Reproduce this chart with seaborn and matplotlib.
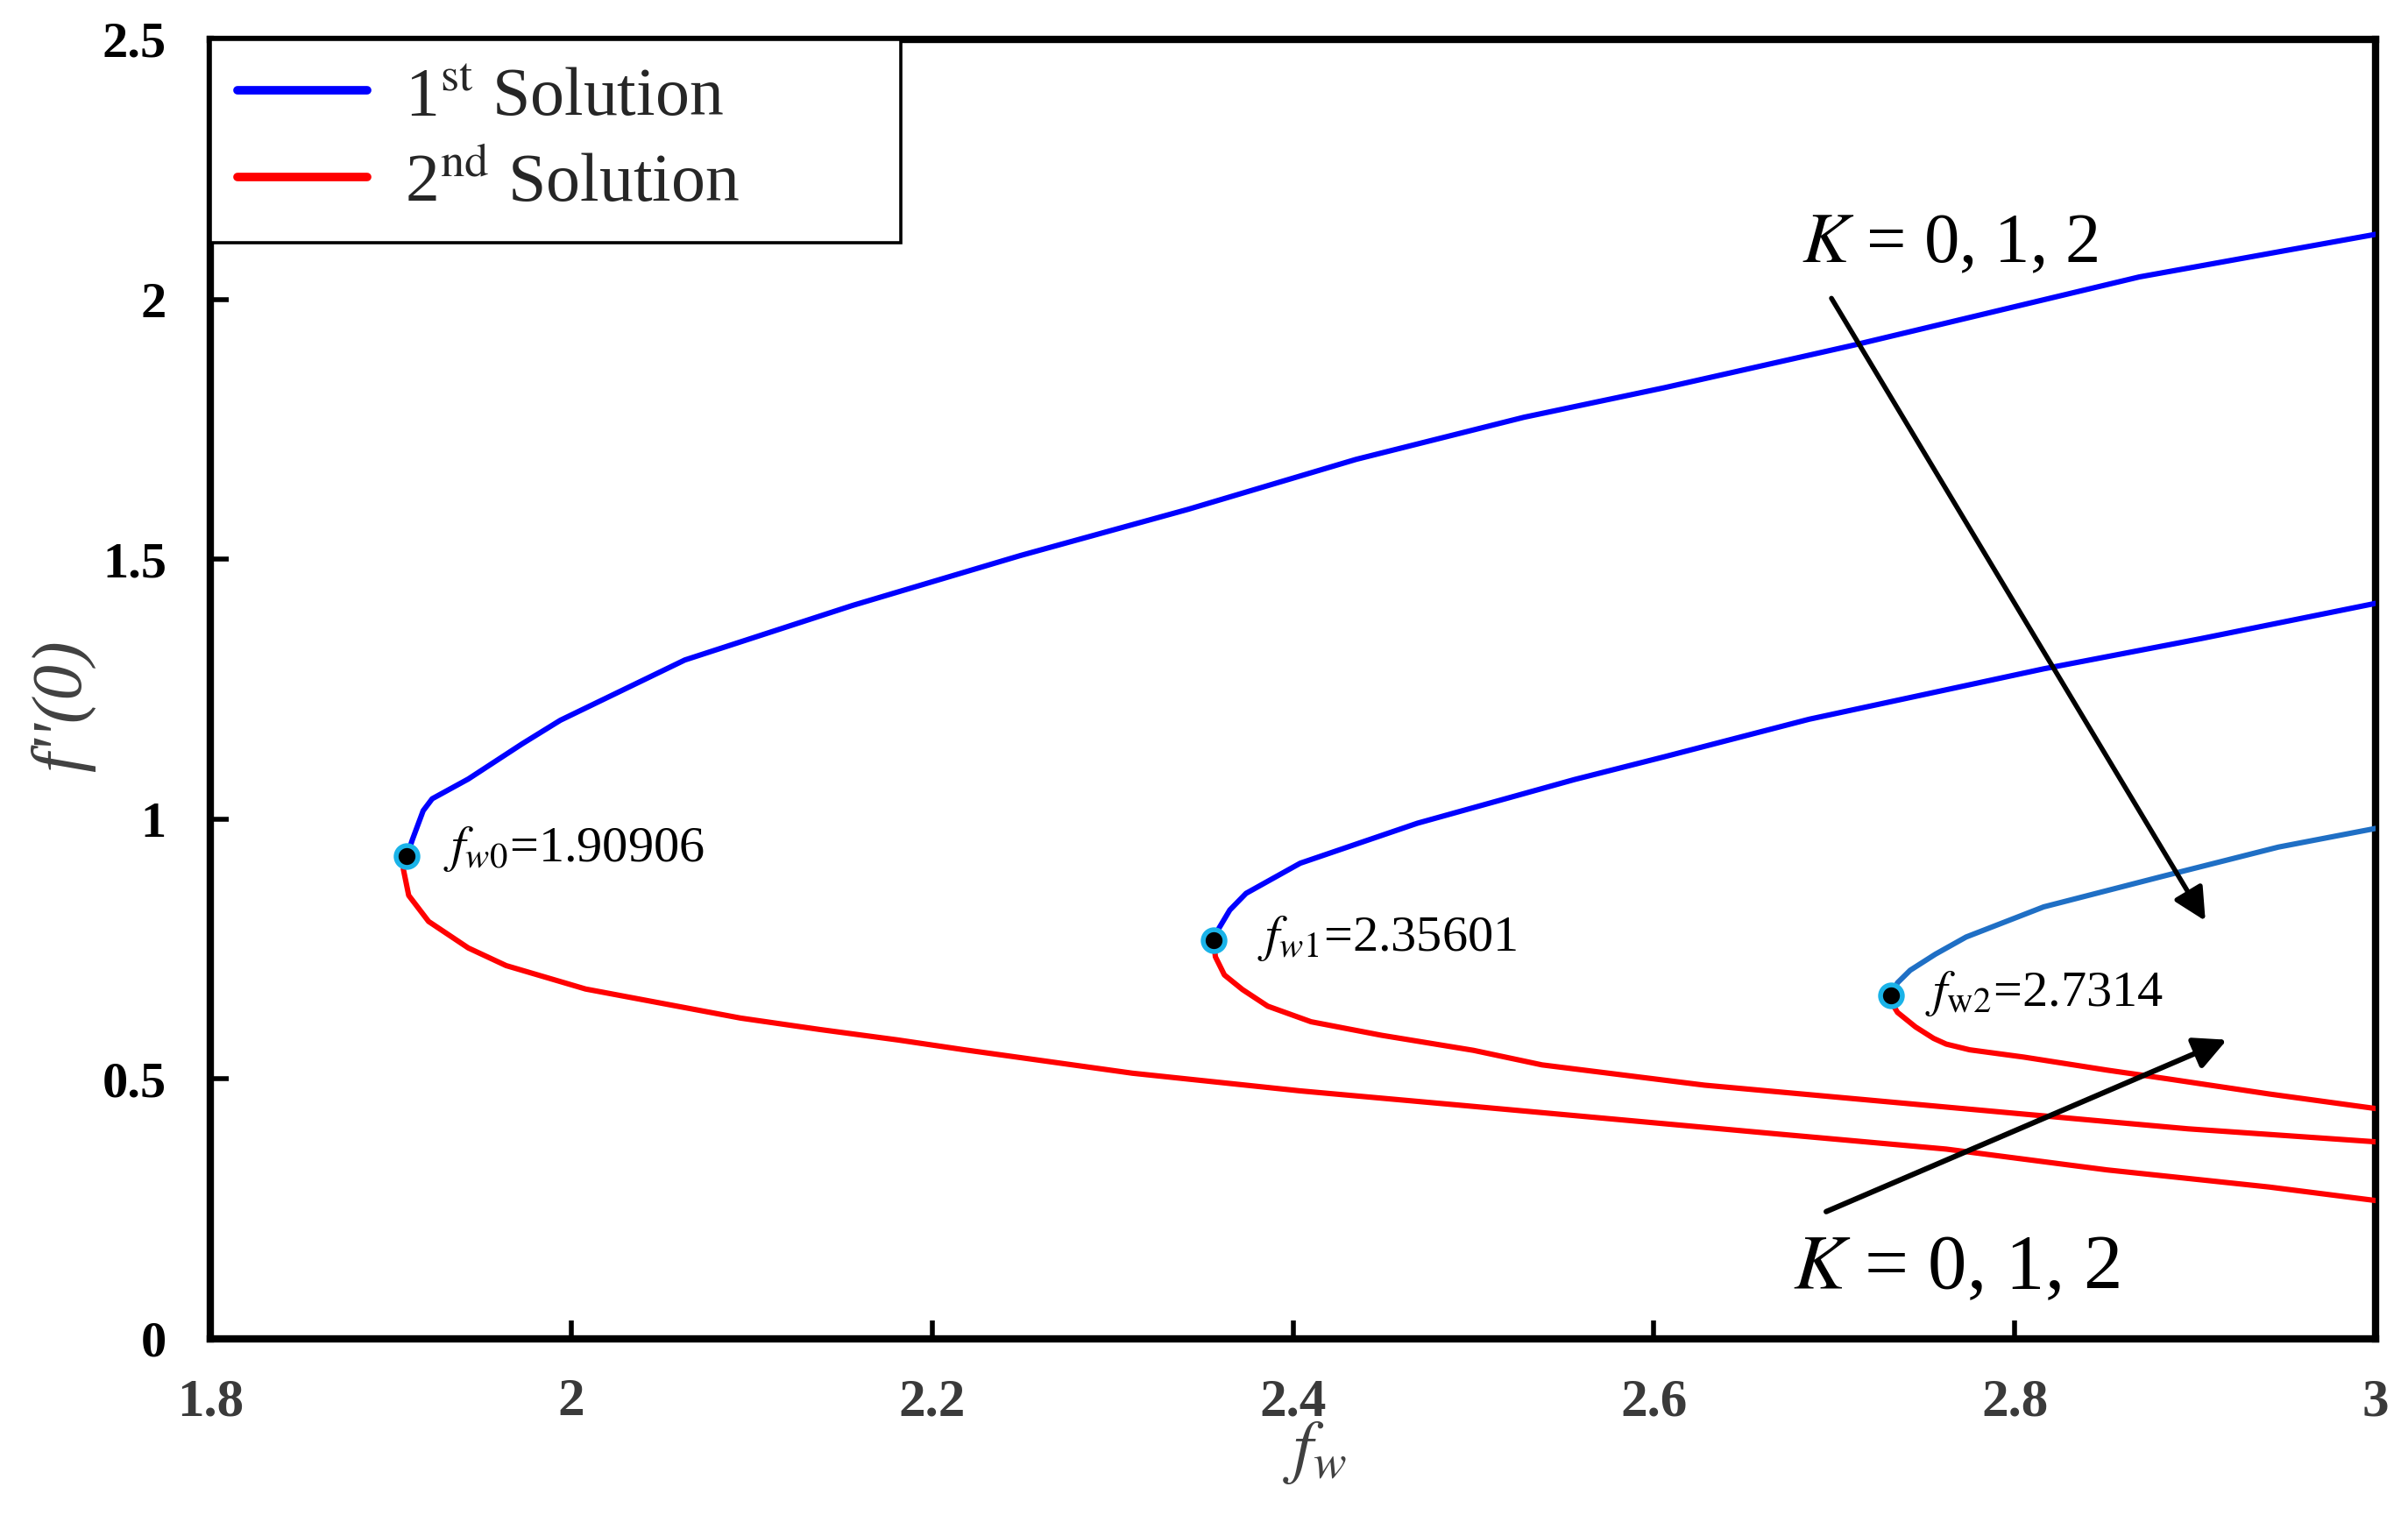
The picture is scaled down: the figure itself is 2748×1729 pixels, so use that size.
import numpy as np
import pandas as pd
import matplotlib
matplotlib.use('Agg')
import matplotlib.pyplot as plt
from matplotlib.lines import Line2D
import seaborn as sns

# turning points (critical suction values) and f''(0) there
crit_fw = [1.90906, 2.35601, 2.7314]
crit_f = [0.929, 0.767, 0.66]
crit_labels = [r'$f_{w0}$=1.90906', r'$f_{w1}$=2.35601', r'$f_{\mathrm{w2}}$=2.7314']

# K = 0 branches
k0_upper_fw = [1.90906, 1.912, 1.918, 1.923, 1.943, 1.973, 1.994, 2.063, 2.156, 2.249, 2.342, 2.435,
               2.528, 2.606, 2.711, 2.869, 3.0]
k0_upper_f = [0.929, 0.96, 1.016, 1.039, 1.077, 1.145, 1.19, 1.306, 1.411, 1.507, 1.596, 1.692,
              1.773, 1.83, 1.912, 2.043, 2.125]
k0_lower_fw = [1.90906, 1.907, 1.910, 1.921, 1.943, 1.964, 2.008, 2.051, 2.094, 2.138, 2.181, 2.218,
               2.311, 2.404, 2.494, 2.583, 2.672, 2.762, 2.851, 2.941, 3.0]
k0_lower_f = [0.929, 0.904, 0.853, 0.803, 0.752, 0.718, 0.673, 0.645, 0.617, 0.595, 0.575, 0.556,
              0.511, 0.477, 0.449, 0.421, 0.393, 0.365, 0.325, 0.292, 0.266]

# K = 1 branches
k1_upper_fw = [2.35601, 2.359, 2.365, 2.374, 2.404, 2.469, 2.556, 2.606, 2.686, 2.816, 2.903, 3.0]
k1_upper_f = [0.767, 0.79, 0.825, 0.857, 0.915, 0.992, 1.076, 1.12, 1.192, 1.289, 1.347, 1.415]
k1_lower_fw = [2.35601, 2.357, 2.362, 2.372, 2.386, 2.41, 2.449, 2.50, 2.538, 2.628, 2.717, 2.806,
               2.896, 3.0]
k1_lower_f = [0.767, 0.735, 0.70, 0.672, 0.64, 0.61, 0.584, 0.555, 0.527, 0.488, 0.46, 0.432,
              0.404, 0.379]

# K = 2 branches
k2_upper_fw = [2.7314, 2.735, 2.742, 2.756, 2.773, 2.816, 2.881, 2.946, 3.0]
k2_upper_f = [0.66, 0.685, 0.709, 0.74, 0.773, 0.831, 0.889, 0.946, 0.982]
k2_lower_fw = [2.7314, 2.732, 2.735, 2.745, 2.755, 2.762, 2.775, 2.805, 2.851, 2.885, 2.941, 3.0]
k2_lower_f = [0.66, 0.645, 0.628, 0.60, 0.578, 0.567, 0.556, 0.542, 0.517, 0.50, 0.471, 0.443]

xticks = [1.8, 2.0, 2.2, 2.4, 2.6, 2.8, 3.0]
xtick_labels = ['1.8', '2', '2.2', '2.4', '2.6', '2.8', '3']
yticks = [0, 0.5, 1.0, 1.5, 2.0, 2.5]
ytick_labels = ['0', '0.5', '1', '1.5', '2', '2.5']

branches = [
    (0, 'upper', k0_upper_fw, k0_upper_f, '#0000FF'),
    (0, 'lower', k0_lower_fw, k0_lower_f, '#FF0000'),
    (1, 'upper', k1_upper_fw, k1_upper_f, '#0000FF'),
    (1, 'lower', k1_lower_fw, k1_lower_f, '#FF0000'),
    (2, 'upper', k2_upper_fw, k2_upper_f, '#1F6FC5'),
    (2, 'lower', k2_lower_fw, k2_lower_f, '#FF0000'),
]

rows = []
for k, br, xs, ys, col in branches:
    for i, (x, y) in enumerate(zip(xs, ys)):
        rows.append({'K': k, 'branch': br, 'order': i, 'fw': x, 'f': y})
df = pd.DataFrame(rows)

sns.set_style('ticks')
plt.rcParams['font.family'] = ['Liberation Serif', 'DejaVu Serif']
plt.rcParams['mathtext.fontset'] = 'stix'

fig = plt.figure(figsize=(13.74, 8.645), dpi=200)
ax = fig.add_axes([0.0873, 0.1163, 0.9866 - 0.0873, 0.974 - 0.1163])
ax.set_axisbelow(False)

for k, br, xs, ys, col in branches:
    sub = df[(df['K'] == k) & (df['branch'] == br)]
    sns.lineplot(data=sub, x='fw', y='f', sort=False, estimator=None, color=col, lw=2.2,
                 ax=ax, legend=False, zorder=3, solid_joinstyle='round', solid_capstyle='round')

sns.scatterplot(x=crit_fw, y=crit_f, color='black', edgecolor='#1AB3E8',
                s=80, linewidth=2, ax=ax, zorder=5, legend=False)

offsets = [(15, 3), (18, 1), (14, 1)]
for x, y, lab, off in zip(crit_fw, crit_f, crit_labels, offsets):
    ax.annotate(lab, xy=(x, y), xytext=off, textcoords='offset points',
                ha='left', va='center', fontsize=21, color='black')

# K arrows
ax.annotate('', xy=(2.907, 0.796), xytext=(2.697, 2.01),
            arrowprops=dict(arrowstyle='-|>', color='black', lw=2.0, mutation_scale=28))
ax.annotate('', xy=(2.92, 0.579), xytext=(2.693, 0.241),
            arrowprops=dict(arrowstyle='-|>', color='black', lw=2.2, mutation_scale=28))
ax.text(2.682, 2.104, r'$K$ = 0, 1, 2', ha='left', va='center', fontsize=29, color='black')
ax.text(2.677, 0.133, r'$K$ = 0, 1, 2', ha='left', va='center', fontsize=32, color='black')

ax.set_xlim(1.8, 3.0)
ax.set_ylim(0, 2.5)
ax.set_xticks(xticks)
ax.set_xticklabels(xtick_labels, fontsize=22, fontweight='bold', color='#3a3a3a')
ax.set_yticks(yticks)
ax.set_yticklabels(ytick_labels, fontsize=21, fontweight='bold', color='black')
ax.tick_params(axis='x', which='major', direction='in', length=7.5, width=2.0, pad=16,
               bottom=True, top=False, color='black')
ax.tick_params(axis='y', which='major', direction='in', length=7.5, width=2.0, pad=18,
               left=True, right=False, color='black')

for sp in ax.spines.values():
    sp.set_visible(True)
    sp.set_color('black')
    sp.set_linewidth(3.0)

ax.set_xlabel(r'$f_w$', fontsize=29, color='#404040')
ax.xaxis.set_label_coords(0.51, -0.062)
ax.set_ylabel("f''(0)", fontsize=29, color='#404040', fontstyle='italic')
ax.yaxis.set_label_coords(-0.053, 0.487)

handles = [Line2D([], [], color='#0000FF', lw=3.5),
           Line2D([], [], color='#FF0000', lw=3.5)]
leg = ax.legend(handles, [r'1$^{\mathrm{st}}$ Solution', r'2$^{\mathrm{nd}}$ Solution'],
                loc='upper left', bbox_to_anchor=(0, 0.8415, 0.319, 0.1585), mode='expand',
                borderaxespad=0, fontsize=28, frameon=True, fancybox=False,
                handlelength=1.9, handletextpad=0.55, borderpad=0.4, labelspacing=0.35)
leg.get_frame().set_edgecolor('black')
leg.get_frame().set_linewidth(1.3)
leg.get_frame().set_alpha(1)

fig.savefig('out.png', dpi=200)
